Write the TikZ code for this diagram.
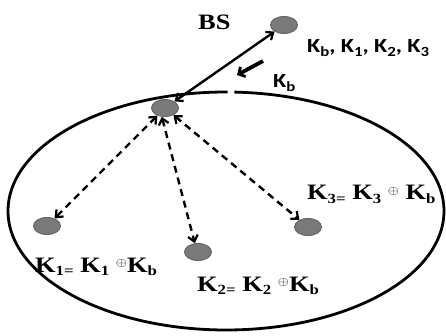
\documentclass[tikz,border=0pt]{standalone}
\usepackage{graphicx}
\usepackage{fontspec}
\setmainfont{Liberation Serif}
\newfontfamily\calib{Carlito}
\usetikzlibrary{arrows.meta,shapes.geometric}
\newcommand{\sbx}[1]{\raisebox{-0.35ex}{\fontsize{14}{14}\selectfont #1}}
\newcommand{\xr}{\raisebox{0.55ex}{\fontsize{13}{13}\selectfont\mdseries$\oplus$}}
\newcommand{\hs}[1]{\scalebox{1.2}[1]{#1}}
\begin{document}
\begin{tikzpicture}[x=1pt,y=-1pt,
  dev/.style={ellipse,draw=black!60,line width=1pt,fill=black!52,minimum width=27pt,minimum height=17pt,inner sep=0pt},
  link/.style={line width=2.4pt,{Straight Barb[length=6pt,width=10pt,line width=2.2pt]}-{Straight Barb[length=6pt,width=10pt,line width=2.2pt]}},
  dlink/.style={link,dash pattern=on 7pt off 5pt},
  lbl/.style={anchor=base west,inner sep=0pt,font=\fontsize{22}{22}\selectfont\bfseries},
  slbl/.style={anchor=base west,inner sep=0pt,font=\fontsize{20}{20}\selectfont\calib\bfseries}]
\useasboundingbox (0,0) rectangle (446,336);
\coordinate (c) at (226,211);
\draw[line width=2.8pt] ([shift={(89.6:218pt and 119pt)}]c) arc[start angle=89.6,end angle=447.8,x radius=218pt,y radius=119pt];
\node[dev] (bs) at (284,25) {};
\node[dev] (ch) at (165,108) {};
\node[dev] (n1) at (47,226) {};
\node[dev] (n2) at (198,252) {};
\node[dev] (n3) at (308,227) {};
\draw[link] (ch) -- (bs);
\draw[dlink] (ch) -- (n1);
\draw[dlink] (ch.250) -- (n2.110);
\draw[dlink] (ch) -- (n3);
\coordinate (a1) at (263,61);
\coordinate (a2) at (237,75);
\draw[line width=3.8pt,-{Straight Barb[length=5pt,width=11pt,line width=2.8pt]}] (a1) -- (a2);
\node[lbl] (tbs) at (198,30) {\hs{BS}};
\node[slbl] (tk) at (307,53) {\hs{K\sbx{b}, K\sbx{1}, K\sbx{2}, K\sbx{3}}};
\node[slbl] (tkb) at (273,88) {\hs{K\sbx{b}}};
\node[lbl] (t1) at (35,272) {\hs{K\sbx{1=} K\sbx{1} \xr K\sbx{b}}};
\node[lbl] (t2) at (197,291) {\hs{K\sbx{2=} K\sbx{2} \xr K\sbx{b}}};
\node[lbl] (t3) at (307,200) {\hs{K\sbx{3=} K\sbx{3} \xr{} K\sbx{b}}};
\end{tikzpicture}
\end{document}
